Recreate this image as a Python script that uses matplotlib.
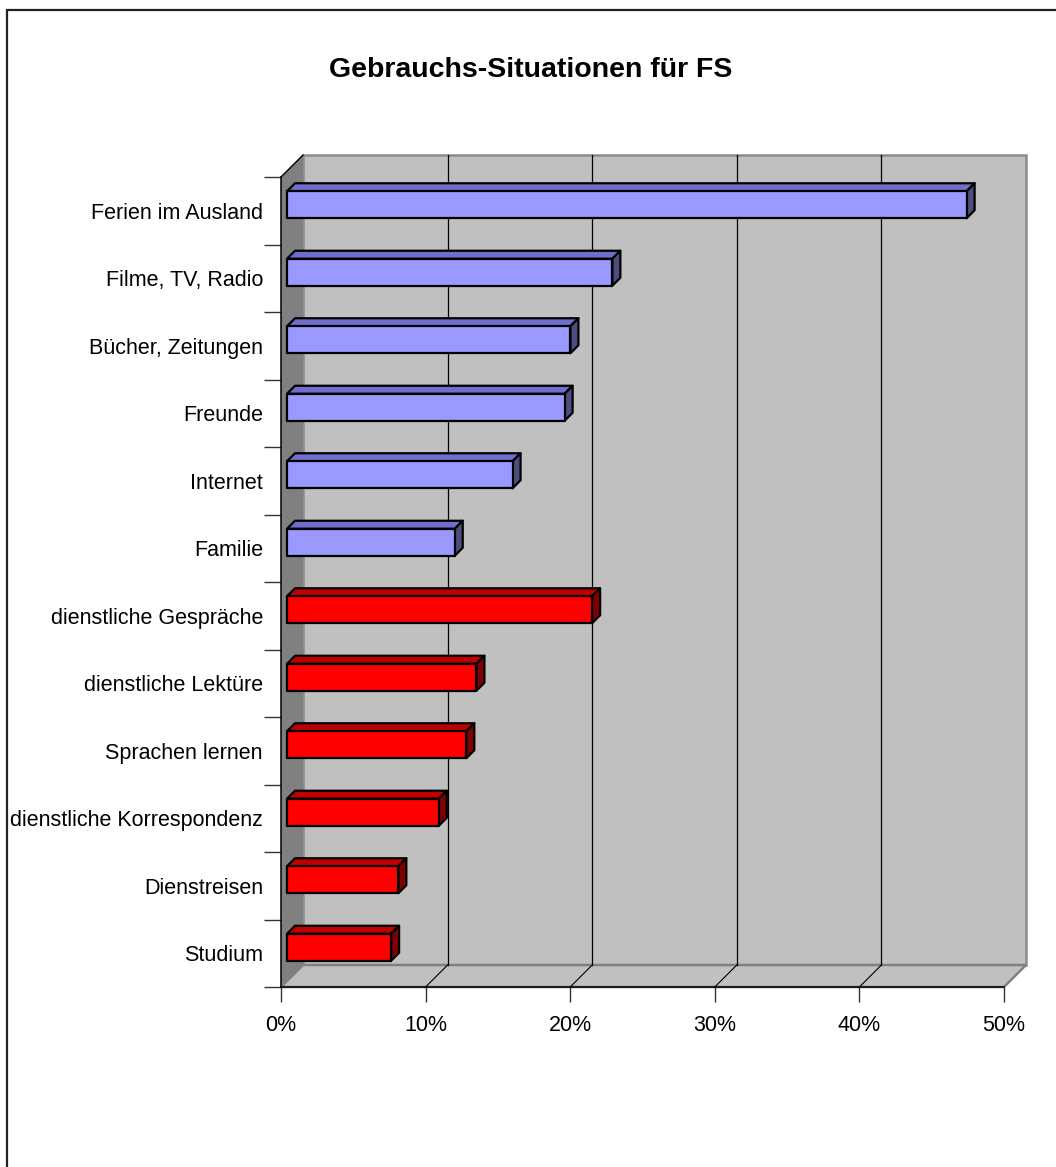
import numpy as np
import matplotlib
matplotlib.use("Agg")
import matplotlib.pyplot as plt
from matplotlib.patches import Polygon, Rectangle

plt.rcParams['font.family'] = ['Liberation Sans', 'DejaVu Sans']

# categories from top to bottom
categories = ['Ferien im Ausland', 'Filme, TV, Radio', 'Bücher, Zeitungen', 'Freunde',
              'Internet', 'Familie', 'dienstliche Gespräche', 'dienstliche Lektüre',
              'Sprachen lernen', 'dienstliche Korrespondenz', 'Dienstreisen', 'Studium']
values = [47.0, 22.5, 19.6, 19.2, 15.6, 11.6, 21.1, 13.1, 12.4, 10.5, 7.7, 7.2]
groups = ['privat'] * 6 + ['dienstlich'] * 6
x_ticks = [0, 10, 20, 30, 40, 50]
x_ticklabels = ['0%', '10%', '20%', '30%', '40%', '50%']

colors = {
    'privat': ('#9999FF', '#6E6ECC', '#4D4D80'),
    'dienstlich': ('#FF0000', '#C00000', '#800000'),
}

W, H = 1056, 1167
fig = plt.figure(figsize=(W / 100, H / 100), dpi=100)

# outer frame (runs off the right and bottom edge)
fig.patches.append(Rectangle((7 / W, -0.1), 1.2, 1 - 10 / H + 0.1, transform=fig.transFigure,
                             fill=False, edgecolor='#222222', lw=1.6))

ax = fig.add_axes([281 / W, 1 - 987 / H, 723 / W, 810 / H])
n = len(categories)
ax.set_xlim(0, 50)
ax.set_ylim(0, n)
ax.patch.set_visible(False)

# pixel -> data unit scale
p0 = ax.transData.transform((0, 0))
p1 = ax.transData.transform((1, 1))
sx, sy = p1[0] - p0[0], p1[1] - p0[1]
D = 22  # wall depth in px
Dx, Dy = D / sx, D / sy

# walls and floor
ax.add_patch(Polygon([(Dx, Dy), (50 + Dx, Dy), (50 + Dx, n + Dy), (Dx, n + Dy)],
                     closed=True, facecolor='#C0C0C0', edgecolor='#8C8C8C', lw=1.8,
                     clip_on=False, zorder=1))
ax.add_patch(Polygon([(0, 0), (50, 0), (50 + Dx, Dy), (Dx, Dy)], closed=True,
                     facecolor='#C0C0C0', edgecolor='#808080', lw=1.8, clip_on=False, zorder=1.2))
ax.add_patch(Polygon([(0, 0), (0, n), (Dx, n + Dy), (Dx, Dy)], closed=True,
                     facecolor='#808080', edgecolor='none', clip_on=False, zorder=1.3))
ax.plot([0, Dx], [n, n + Dy], color='black', lw=1, clip_on=False, zorder=1.4)

# gridlines on back wall and floor
for t in x_ticks[1:-1]:
    ax.plot([t + Dx, t + Dx], [Dy, n + Dy], color='black', lw=0.9, clip_on=False, zorder=1.5)
    ax.plot([t, t + Dx], [0, Dy], color='black', lw=0.8, clip_on=False, zorder=1.5)

# 3D bars
d1, d2 = 6, 14
a1x, a1y = d1 / sx, d1 / sy
a2x, a2y = d2 / sx, d2 / sy
bh = 0.4
for i, (cat, v, g) in enumerate(zip(categories, values, groups)):
    yc = n - i - 0.5
    y0, y1 = yc - bh / 2, yc + bh / 2
    front_c, top_c, side_c = colors[g]
    front = [(a1x, y0 + a1y), (v + a1x, y0 + a1y), (v + a1x, y1 + a1y), (a1x, y1 + a1y)]
    top = [(a1x, y1 + a1y), (v + a1x, y1 + a1y), (v + a2x, y1 + a2y), (a2x, y1 + a2y)]
    side = [(v + a1x, y0 + a1y), (v + a2x, y0 + a2y), (v + a2x, y1 + a2y), (v + a1x, y1 + a1y)]
    for pts, c in ((top, top_c), (side, side_c), (front, front_c)):
        ax.add_patch(Polygon(pts, closed=True, facecolor=c, edgecolor='black', lw=1.6,
                             joinstyle='round', clip_on=False, zorder=3))

# axes
for s in ['top', 'right']:
    ax.spines[s].set_visible(False)
for s in ['left', 'bottom']:
    ax.spines[s].set_color('black')
    ax.spines[s].set_linewidth(1.1)
    ax.spines[s].set_zorder(2)

ax.set_xticks(x_ticks)
ax.set_xticklabels(x_ticklabels, fontsize=15.5)
ax.tick_params(axis='x', direction='out', length=11, width=1, color='#333333', pad=9)

ax.set_yticks(np.arange(0, n + 1))
ax.set_yticklabels([])
ax.set_yticks(np.arange(n) + 0.5, minor=True)
ax.set_yticklabels(categories[::-1], minor=True, fontsize=15.5)
ax.tick_params(axis='y', which='major', direction='out', length=12.5, width=1, color='#333333')
ax.tick_params(axis='y', which='minor', length=0, pad=13)

fig.text(531 / W, 1 - 70 / H, 'Gebrauchs-Situationen für FS', ha='center', va='center',
         fontsize=20.5, fontweight='bold')

fig.savefig('out.png', dpi=100)
